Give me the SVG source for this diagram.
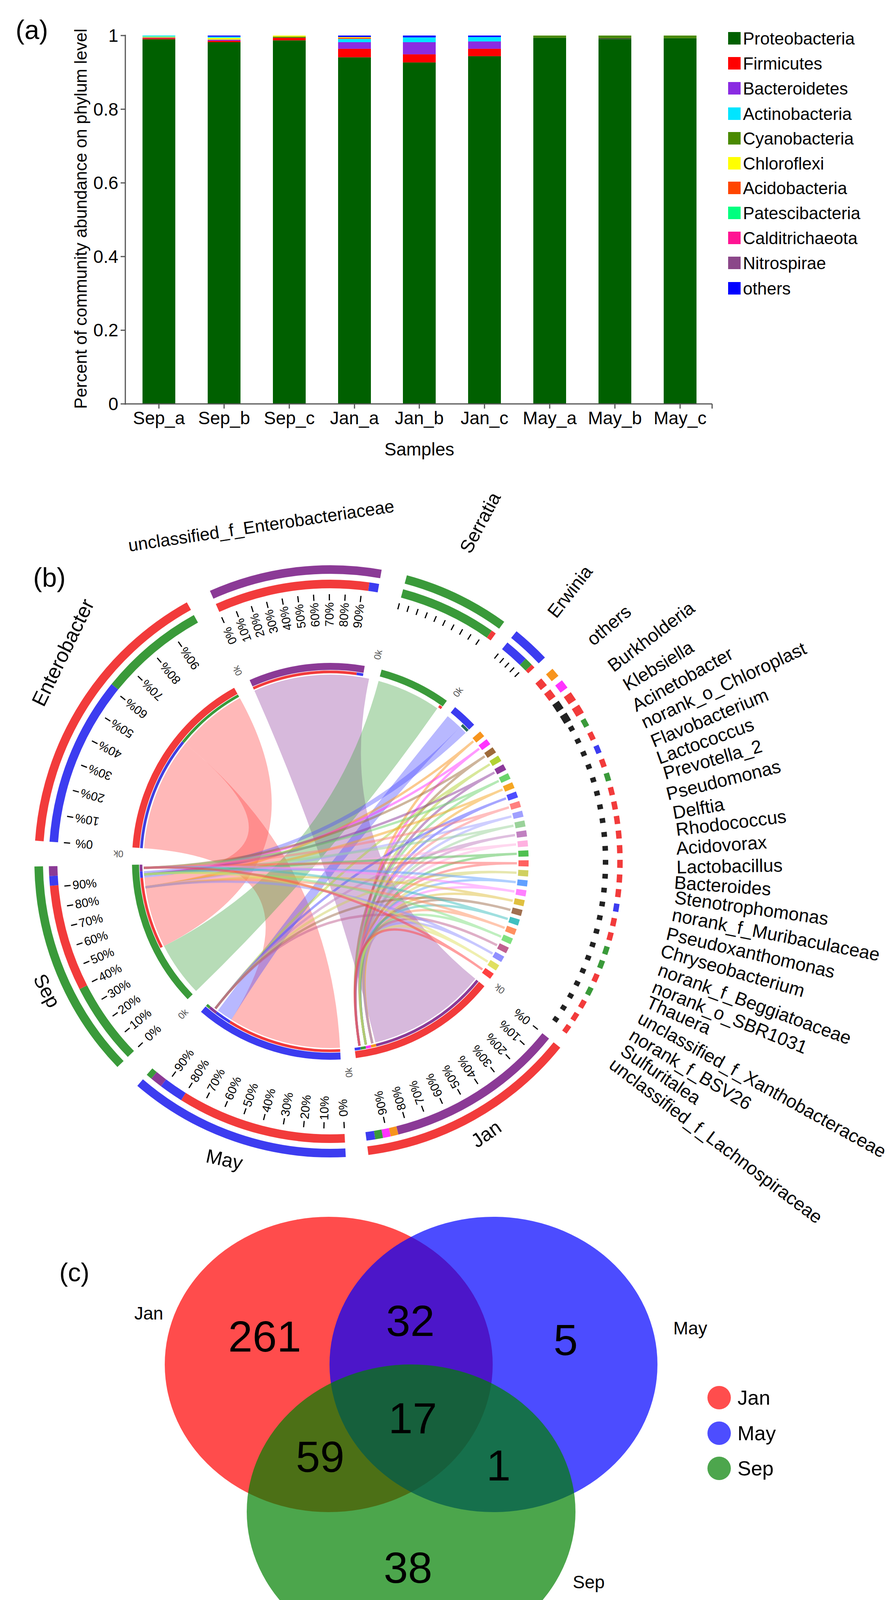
<svg xmlns="http://www.w3.org/2000/svg" width="2295" height="4282" viewBox="0 0 2295 4282">
<style>
text{font-family:"Liberation Sans",Arial,sans-serif;fill:#000}
.r{fill:none}
.tk line{stroke:#000;stroke-width:3}
.pc{font-size:31px;text-anchor:middle;dominant-baseline:central}
.ok{font-size:24px;fill:#555;text-anchor:middle;dominant-baseline:central}
.lb{font-size:47px}
.sr path{fill:none;stroke-width:6;stroke-opacity:.5}
.rb{opacity:.4}
.vn{font-size:112px;text-anchor:middle}
</style>
<rect width="2295" height="4282" fill="#fff"/>
<g id="panel-a">
<text x="40" y="100" font-size="68">(a)</text>
<g id="bars">
<rect x="365" y="100.4" width="84" height="933.6" fill="#006000"/><rect x="365" y="97.6" width="84" height="2.8" fill="#f00"/><rect x="365" y="95.7" width="84" height="1.9" fill="#8b4789"/><rect x="365" y="93.8" width="84" height="1.9" fill="#ff0"/><rect x="365" y="91" width="84" height="2.8" fill="#00e5ff"/>
<rect x="532" y="108" width="84" height="926" fill="#006000"/><rect x="532" y="104.2" width="84" height="3.8" fill="#f00"/><rect x="532" y="101.4" width="84" height="2.8" fill="#8a2be2"/><rect x="532" y="96.7" width="84" height="4.7" fill="#ff0"/><rect x="532" y="93.8" width="84" height="2.9" fill="#00e5ff"/><rect x="532" y="91" width="84" height="2.8" fill="#00f"/>
<rect x="699" y="103.3" width="84" height="930.7" fill="#006000"/><rect x="699" y="96.7" width="84" height="6.6" fill="#f00"/><rect x="699" y="93.8" width="84" height="2.9" fill="#4a8a00"/><rect x="699" y="91" width="84" height="2.8" fill="#ff0"/>
<rect x="866" y="146.6" width="84" height="887.4" fill="#006000"/><rect x="866" y="124.9" width="84" height="21.7" fill="#f00"/><rect x="866" y="108" width="84" height="16.9" fill="#8a2be2"/><rect x="866" y="99.5" width="84" height="8.5" fill="#00e5ff"/><rect x="866" y="96.7" width="84" height="2.8" fill="#ff4500"/><rect x="866" y="94.8" width="84" height="1.9" fill="#ff0"/><rect x="866" y="91" width="84" height="3.8" fill="#00f"/>
<rect x="1032" y="159.8" width="84" height="874.2" fill="#006000"/><rect x="1032" y="139.1" width="84" height="20.7" fill="#f00"/><rect x="1032" y="108" width="84" height="31.1" fill="#8a2be2"/><rect x="1032" y="95.7" width="84" height="12.3" fill="#00e5ff"/><rect x="1032" y="91" width="84" height="4.7" fill="#00f"/>
<rect x="1199" y="143.8" width="84" height="890.2" fill="#006000"/><rect x="1199" y="124.9" width="84" height="18.9" fill="#f00"/><rect x="1199" y="106.1" width="84" height="18.8" fill="#8a2be2"/><rect x="1199" y="94.8" width="84" height="11.3" fill="#00e5ff"/><rect x="1199" y="91" width="84" height="3.8" fill="#00f"/>
<rect x="1366" y="96.7" width="84" height="937.3" fill="#006000"/><rect x="1366" y="91" width="84" height="5.7" fill="#4a8a00"/>
<rect x="1533" y="100.4" width="84" height="933.6" fill="#006000"/><rect x="1533" y="97.6" width="84" height="2.8" fill="#2a4a20"/><rect x="1533" y="91" width="84" height="6.6" fill="#4a8a00"/>
<rect x="1700" y="97.6" width="84" height="936.4" fill="#006000"/><rect x="1700" y="91" width="84" height="6.6" fill="#4a8a00"/>
</g>
<g id="axes" stroke="#555" stroke-width="3">
<line x1="321" y1="89" x2="321" y2="1036"/>
<line x1="319" y1="1034" x2="1824" y2="1034"/>
<line x1="309" y1="91" x2="321" y2="91"/><line x1="309" y1="279.6" x2="321" y2="279.6"/><line x1="309" y1="468.2" x2="321" y2="468.2"/><line x1="309" y1="656.8" x2="321" y2="656.8"/><line x1="309" y1="845.4" x2="321" y2="845.4"/><line x1="309" y1="1034" x2="321" y2="1034"/>
<line x1="407" y1="1034" x2="407" y2="1046"/><line x1="574" y1="1034" x2="574" y2="1046"/><line x1="741" y1="1034" x2="741" y2="1046"/><line x1="908" y1="1034" x2="908" y2="1046"/><line x1="1074" y1="1034" x2="1074" y2="1046"/><line x1="1241" y1="1034" x2="1241" y2="1046"/><line x1="1408" y1="1034" x2="1408" y2="1046"/><line x1="1575" y1="1034" x2="1575" y2="1046"/><line x1="1742" y1="1034" x2="1742" y2="1046"/><line x1="1824" y1="1034" x2="1824" y2="1046"/>
</g>
<g font-size="46" text-anchor="end">
<text x="303" y="107">1</text><text x="303" y="296">0.8</text><text x="303" y="484">0.6</text><text x="303" y="673">0.4</text><text x="303" y="861">0.2</text><text x="303" y="1050">0</text>
</g>
<g font-size="46" text-anchor="middle">
<text x="407" y="1086">Sep_a</text><text x="574" y="1086">Sep_b</text><text x="741" y="1086">Sep_c</text><text x="908" y="1086">Jan_a</text><text x="1074" y="1086">Jan_b</text><text x="1241" y="1086">Jan_c</text><text x="1408" y="1086">May_a</text><text x="1575" y="1086">May_b</text><text x="1742" y="1086">May_c</text>
<text x="1074" y="1166">Samples</text>
<text x="0" y="0" transform="translate(222 560) rotate(-90)" font-size="44">Percent of community abundance on phylum level</text>
</g>
<g id="legend-a" font-size="44">
<rect x="1865" y="82" width="32" height="32" fill="#006000"/><text x="1903" y="114">Proteobacteria</text>
<rect x="1865" y="146" width="32" height="32" fill="#f00"/><text x="1903" y="178">Firmicutes</text>
<rect x="1865" y="210" width="32" height="32" fill="#8a2be2"/><text x="1903" y="242">Bacteroidetes</text>
<rect x="1865" y="275" width="32" height="32" fill="#00e5ff"/><text x="1903" y="307">Actinobacteria</text>
<rect x="1865" y="338" width="32" height="32" fill="#4a8a00"/><text x="1903" y="370">Cyanobacteria</text>
<rect x="1865" y="402" width="32" height="32" fill="#ff0"/><text x="1903" y="434">Chloroflexi</text>
<rect x="1865" y="465" width="32" height="32" fill="#ff4500"/><text x="1903" y="497">Acidobacteria</text>
<rect x="1865" y="529" width="32" height="32" fill="#00ff7f"/><text x="1903" y="561">Patescibacteria</text>
<rect x="1865" y="593" width="32" height="32" fill="#ff1493"/><text x="1903" y="625">Calditrichaeota</text>
<rect x="1865" y="657" width="32" height="32" fill="#8b4789"/><text x="1903" y="689">Nitrospirae</text>
<rect x="1865" y="722" width="32" height="32" fill="#00f"/><text x="1903" y="754">others</text>
</g>
</g>

<g id="panel-b">
<text x="85" y="1502" font-size="68">(b)</text>
<g id="connectors">
<path class="rb" fill="#ff4d4d" d="M369.1,2171.6 A478,478 0 0 1 474.5,1904.2 Q846,2205 871,2682.3 A478,478 0 0 1 592.7,2610.3 Q846,2205 369.1,2171.6Z"/>
<path class="rb" fill="#ff4d4d" d="M474.5,1904.2 A478,478 0 0 1 614.3,1786.9 Q846,2205 420.1,2422 A478,478 0 0 1 369.8,2246.7 Q846,2205 474.5,1904.2Z"/>
<path class="rb" fill="#9b4fa8" d="M651.6,1768.3 A478,478 0 0 1 945.4,1737.5 Q846,2205 1217.5,2505.8 A478,478 0 0 1 961.6,2668.8 Q846,2205 651.6,1768.3Z"/>
<path class="rb" fill="#4aa84a" d="M969.7,1743.3 A478,478 0 0 1 1120.2,1813.4 Q846,2205 502.2,2537.1 A478,478 0 0 1 420.1,2422 Q846,2205 969.7,1743.3Z"/>
<path class="rb" fill="#4d4dff" d="M1146.8,1833.5 A478,478 0 0 1 1178.1,1861.2 Q846,2205 592.7,2610.3 A478,478 0 0 1 558.3,2586.7 Q846,2205 1146.8,1833.5Z"/>
<path class="rb" fill="#4d4dff" d="M1178.1,1861.2 A478,478 0 0 1 1192.7,1875.9 Q846,2205 369.8,2246.7 A478,478 0 0 1 368.7,2230 Q846,2205 1178.1,1861.2Z"/>
<g class="sr">
<path stroke="#f7941d" d="M1212.2,1897.7 Q846,2205 953.6,2670.8 M1212.2,1897.7 Q846,2205 372.6,2271.5"/>
<path stroke="#ff33ff" d="M1227.3,1916.7 Q846,2205 937.2,2674.2 M1227.3,1916.7 Q846,2205 369.1,2238.4"/>
<path stroke="#9e6b3a" d="M1241.4,1936.3 Q846,2205 920.8,2677.1 M1241.4,1936.3 Q846,2205 368.3,2221.7"/>
<path stroke="#b2d235" d="M1254.5,1956.7 Q846,2205 953.6,2670.8 M1254.5,1956.7 Q846,2205 551.7,2581.7"/>
<path stroke="#8c3a9a" d="M1266.5,1977.7 Q846,2205 937.2,2674.2 M1266.5,1977.7 Q846,2205 369.1,2238.4"/>
<path stroke="#6bd36b" d="M1277.4,1999.2 Q846,2205 920.8,2677.1 M1277.4,1999.2 Q846,2205 368.3,2221.7"/>
<path stroke="#f5a623" d="M1287.3,2021.3 Q846,2205 953.6,2670.8 M1287.3,2021.3 Q846,2205 372.6,2271.5"/>
<path stroke="#4d4dff" d="M1296,2043.9 Q846,2205 937.2,2674.2 M1296,2043.9 Q846,2205 551.7,2581.7"/>
<path stroke="#ff8080" d="M1303.6,2066.9 Q846,2205 920.8,2677.1 M1303.6,2066.9 Q846,2205 368.3,2221.7"/>
<path stroke="#a0a0ff" d="M1310,2090.2 Q846,2205 953.6,2670.8 M1310,2090.2 Q846,2205 372.6,2271.5"/>
<path stroke="#9ad29a" d="M1315.2,2113.8 Q846,2205 937.2,2674.2 M1315.2,2113.8 Q846,2205 369.1,2238.4"/>
<path stroke="#c080c0" d="M1319.2,2137.7 Q846,2205 920.8,2677.1 M1319.2,2137.7 Q846,2205 551.7,2581.7"/>
<path stroke="#ffb0e0" d="M1322,2161.7 Q846,2205 953.6,2670.8 M1322,2161.7 Q846,2205 372.6,2271.5"/>
<path stroke="#50c050" d="M1323.6,2185.8 Q846,2205 937.2,2674.2 M1323.6,2185.8 Q846,2205 369.1,2238.4"/>
<path stroke="#ff6060" d="M1324,2210 Q846,2205 920.8,2677.1 M1324,2210 Q846,2205 368.3,2221.7"/>
<path stroke="#d0d060" d="M1323.1,2234.2 Q846,2205 953.6,2670.8 M1323.1,2234.2 Q846,2205 551.7,2581.7"/>
<path stroke="#60a0ff" d="M1321,2258.3 Q846,2205 937.2,2674.2 M1321,2258.3 Q846,2205 369.1,2238.4"/>
<path stroke="#ff80ff" d="M1317.7,2282.2 Q846,2205 920.8,2677.1 M1317.7,2282.2 Q846,2205 368.3,2221.7"/>
<path stroke="#e0c040" d="M1313.2,2306 Q846,2205 953.6,2670.8 M1313.2,2306 Q846,2205 372.6,2271.5"/>
<path stroke="#a07050" d="M1307.5,2329.5 Q846,2205 937.2,2674.2 M1307.5,2329.5 Q846,2205 551.7,2581.7"/>
<path stroke="#40c0c0" d="M1300.6,2352.7 Q846,2205 920.8,2677.1 M1300.6,2352.7 Q846,2205 368.3,2221.7"/>
<path stroke="#ff9060" d="M1292.5,2375.5 Q846,2205 953.6,2670.8 M1292.5,2375.5 Q846,2205 372.6,2271.5"/>
<path stroke="#80e080" d="M1283.4,2397.9 Q846,2205 937.2,2674.2 M1283.4,2397.9 Q846,2205 369.1,2238.4"/>
<path stroke="#c06090" d="M1273,2419.8 Q846,2205 920.8,2677.1 M1273,2419.8 Q846,2205 551.7,2581.7"/>
<path stroke="#9090ff" d="M1261.6,2441.1 Q846,2205 953.6,2670.8 M1261.6,2441.1 Q846,2205 372.6,2271.5"/>
<path stroke="#e0e060" d="M1249.1,2461.8 Q846,2205 937.2,2674.2 M1249.1,2461.8 Q846,2205 369.1,2238.4"/>
<path stroke="#ff4040" d="M1235.6,2481.9 Q846,2205 920.8,2677.1 M1235.6,2481.9 Q846,2205 368.3,2221.7"/>
</g>
</g>

<g id="seg-Enterobacter" transform="rotate(184 846 2205)">
<circle class="r" cx="846" cy="2205" r="499" pathLength="360" stroke="#f23b3b" stroke-width="18" stroke-dasharray="57 360"/>
<circle class="r" cx="846" cy="2205" r="485" pathLength="360" stroke="#4040e0" stroke-width="7" stroke-dasharray="35 360"/>
<circle class="r" cx="846" cy="2205" r="485" pathLength="360" stroke="#3a9a3a" stroke-width="7" stroke-dasharray="0 35 22 360"/>
<circle class="r" cx="846" cy="2205" r="710" pathLength="360" stroke="#3c3cf0" stroke-width="22" stroke-dasharray="35 360"/>
<circle class="r" cx="846" cy="2205" r="710" pathLength="360" stroke="#3a9a3a" stroke-width="22" stroke-dasharray="0 35 22 360"/>
<circle class="r" cx="846" cy="2205" r="747" pathLength="360" stroke="#f23b3b" stroke-width="22" stroke-dasharray="57 360"/>
</g>
<g id="seg-unclassified_f_Enterobacteriaceae" transform="rotate(246 846 2205)">
<circle class="r" cx="846" cy="2205" r="499" pathLength="360" stroke="#8b3a96" stroke-width="18" stroke-dasharray="34 360"/>
<circle class="r" cx="846" cy="2205" r="485" pathLength="360" stroke="#f23b3b" stroke-width="7" stroke-dasharray="32 360"/>
<circle class="r" cx="846" cy="2205" r="485" pathLength="360" stroke="#3c3cf0" stroke-width="7" stroke-dasharray="0 32 2 360"/>
<circle class="r" cx="846" cy="2205" r="710" pathLength="360" stroke="#f23b3b" stroke-width="22" stroke-dasharray="32 360"/>
<circle class="r" cx="846" cy="2205" r="710" pathLength="360" stroke="#3c3cf0" stroke-width="22" stroke-dasharray="0 32 2 360"/>
<circle class="r" cx="846" cy="2205" r="747" pathLength="360" stroke="#8b3a96" stroke-width="22" stroke-dasharray="34 360"/>
</g>
<g id="seg-Serratia" transform="rotate(-75 846 2205)">
<circle class="r" cx="846" cy="2205" r="499" pathLength="360" stroke="#3a9a3a" stroke-width="18" stroke-dasharray="21 360"/>
<circle class="r" cx="846" cy="2205" r="485" pathLength="360" stroke="#f23b3b" stroke-width="7" stroke-dasharray="0 20 1 360"/>
<circle class="r" cx="846" cy="2205" r="710" pathLength="360" stroke="#3a9a3a" stroke-width="22" stroke-dasharray="20 360"/>
<circle class="r" cx="846" cy="2205" r="710" pathLength="360" stroke="#f23b3b" stroke-width="22" stroke-dasharray="0 20 1 360"/>
<circle class="r" cx="846" cy="2205" r="747" pathLength="360" stroke="#3a9a3a" stroke-width="22" stroke-dasharray="21 360"/>
</g>
<g id="seg-Erwinia" transform="rotate(-51 846 2205)">
<circle class="r" cx="846" cy="2205" r="499" pathLength="360" stroke="#3c3cf0" stroke-width="18" stroke-dasharray="7.5 360"/>
<circle class="r" cx="846" cy="2205" r="485" pathLength="360" stroke="#2a6a5a" stroke-width="7" stroke-dasharray="0 5 2.5 360"/>
<circle class="r" cx="846" cy="2205" r="710" pathLength="360" stroke="#3c3cf0" stroke-width="22" stroke-dasharray="5 360"/>
<circle class="r" cx="846" cy="2205" r="710" pathLength="360" stroke="#3a9a3a" stroke-width="22" stroke-dasharray="0 5 1.7 360"/>
<circle class="r" cx="846" cy="2205" r="710" pathLength="360" stroke="#f23b3b" stroke-width="22" stroke-dasharray="0 6.7 0.8 360"/>
<circle class="r" cx="846" cy="2205" r="747" pathLength="360" stroke="#3c3cf0" stroke-width="22" stroke-dasharray="7.5 360"/>
</g>
<g id="seg-Jan" transform="rotate(39 846 2205)">
<circle class="r" cx="846" cy="2205" r="499" pathLength="360" stroke="#f23b3b" stroke-width="18" stroke-dasharray="43.6 360"/>
<circle class="r" cx="846" cy="2205" r="485" pathLength="360" stroke="#8b3a96" stroke-width="7" stroke-dasharray="37 360"/>
<circle class="r" cx="846" cy="2205" r="485" pathLength="360" stroke="#f7941d" stroke-width="7" stroke-dasharray="0 37 1.6 360"/>
<circle class="r" cx="846" cy="2205" r="485" pathLength="360" stroke="#ff33ff" stroke-width="7" stroke-dasharray="0 38.6 1.6 360"/>
<circle class="r" cx="846" cy="2205" r="485" pathLength="360" stroke="#3a9a3a" stroke-width="7" stroke-dasharray="0 40.2 1.6 360"/>
<circle class="r" cx="846" cy="2205" r="485" pathLength="360" stroke="#3c3cf0" stroke-width="7" stroke-dasharray="0 41.8 1.8 360"/>
<circle class="r" cx="846" cy="2205" r="710" pathLength="360" stroke="#8b3a96" stroke-width="22" stroke-dasharray="37 360"/>
<circle class="r" cx="846" cy="2205" r="710" pathLength="360" stroke="#f7941d" stroke-width="22" stroke-dasharray="0 37 1.6 360"/>
<circle class="r" cx="846" cy="2205" r="710" pathLength="360" stroke="#ff33ff" stroke-width="22" stroke-dasharray="0 38.6 1.6 360"/>
<circle class="r" cx="846" cy="2205" r="710" pathLength="360" stroke="#3a9a3a" stroke-width="22" stroke-dasharray="0 40.2 1.6 360"/>
<circle class="r" cx="846" cy="2205" r="710" pathLength="360" stroke="#3c3cf0" stroke-width="22" stroke-dasharray="0 41.8 1.8 360"/>
<circle class="r" cx="846" cy="2205" r="747" pathLength="360" stroke="#f23b3b" stroke-width="22" stroke-dasharray="43.6 360"/>
</g>
<g id="seg-May" transform="rotate(87 846 2205)">
<circle class="r" cx="846" cy="2205" r="499" pathLength="360" stroke="#3c3cf0" stroke-width="18" stroke-dasharray="43.7 360"/>
<circle class="r" cx="846" cy="2205" r="485" pathLength="360" stroke="#f23b3b" stroke-width="7" stroke-dasharray="35 360"/>
<circle class="r" cx="846" cy="2205" r="485" pathLength="360" stroke="#3c3cf0" stroke-width="7" stroke-dasharray="0 35 5 360"/>
<circle class="r" cx="846" cy="2205" r="485" pathLength="360" stroke="#8b3a96" stroke-width="7" stroke-dasharray="0 40 2.5 360"/>
<circle class="r" cx="846" cy="2205" r="485" pathLength="360" stroke="#3a9a3a" stroke-width="7" stroke-dasharray="0 42.5 1.2 360"/>
<circle class="r" cx="846" cy="2205" r="710" pathLength="360" stroke="#f23b3b" stroke-width="22" stroke-dasharray="35 360"/>
<circle class="r" cx="846" cy="2205" r="710" pathLength="360" stroke="#3c3cf0" stroke-width="22" stroke-dasharray="0 35 5 360"/>
<circle class="r" cx="846" cy="2205" r="710" pathLength="360" stroke="#8b3a96" stroke-width="22" stroke-dasharray="0 40 2.5 360"/>
<circle class="r" cx="846" cy="2205" r="710" pathLength="360" stroke="#3a9a3a" stroke-width="22" stroke-dasharray="0 42.5 1.2 360"/>
<circle class="r" cx="846" cy="2205" r="747" pathLength="360" stroke="#3c3cf0" stroke-width="22" stroke-dasharray="43.7 360"/>
</g>
<g id="seg-Sep" transform="rotate(136 846 2205)">
<circle class="r" cx="846" cy="2205" r="499" pathLength="360" stroke="#3a9a3a" stroke-width="18" stroke-dasharray="43 360"/>
<circle class="r" cx="846" cy="2205" r="485" pathLength="360" stroke="#f23b3b" stroke-width="7" stroke-dasharray="0 17 22 360"/>
<circle class="r" cx="846" cy="2205" r="485" pathLength="360" stroke="#3c3cf0" stroke-width="7" stroke-dasharray="0 39 2 360"/>
<circle class="r" cx="846" cy="2205" r="485" pathLength="360" stroke="#8b3a96" stroke-width="7" stroke-dasharray="0 41 2 360"/>
<circle class="r" cx="846" cy="2205" r="710" pathLength="360" stroke="#3a9a3a" stroke-width="22" stroke-dasharray="17 360"/>
<circle class="r" cx="846" cy="2205" r="710" pathLength="360" stroke="#f23b3b" stroke-width="22" stroke-dasharray="0 17 22 360"/>
<circle class="r" cx="846" cy="2205" r="710" pathLength="360" stroke="#3c3cf0" stroke-width="22" stroke-dasharray="0 39 2 360"/>
<circle class="r" cx="846" cy="2205" r="710" pathLength="360" stroke="#8b3a96" stroke-width="22" stroke-dasharray="0 41 2 360"/>
<circle class="r" cx="846" cy="2205" r="747" pathLength="360" stroke="#3a9a3a" stroke-width="22" stroke-dasharray="43 360"/>
</g>

<g id="small-segments">
<g transform="rotate(-40.9 846 2205)"><circle class="r" cx="846" cy="2205" r="495" pathLength="360" stroke="#f7941d" stroke-width="26" stroke-dasharray="1.8 360"/><circle class="r" cx="846" cy="2205" r="705" pathLength="360" stroke="#f23b3b" stroke-width="20" stroke-dasharray="1.8 360"/><circle class="r" cx="846" cy="2205" r="742" pathLength="360" stroke="#f7941d" stroke-width="22" stroke-dasharray="1.8 360"/></g>
<g transform="rotate(-38 846 2205)"><circle class="r" cx="846" cy="2205" r="495" pathLength="360" stroke="#ff33ff" stroke-width="26" stroke-dasharray="1.8 360"/><circle class="r" cx="846" cy="2205" r="705" pathLength="360" stroke="#f23b3b" stroke-width="20" stroke-dasharray="1.8 360"/><circle class="r" cx="846" cy="2205" r="742" pathLength="360" stroke="#ff33ff" stroke-width="22" stroke-dasharray="1.8 360"/></g>
<g transform="rotate(-35.1 846 2205)"><circle class="r" cx="846" cy="2205" r="495" pathLength="360" stroke="#9e6b3a" stroke-width="26" stroke-dasharray="1.8 360"/><circle class="r" cx="846" cy="2205" r="705" pathLength="360" stroke="#222" stroke-width="20" stroke-dasharray="1.8 360"/><circle class="r" cx="846" cy="2205" r="742" pathLength="360" stroke="#f23b3b" stroke-width="22" stroke-dasharray="1.8 360"/></g>
<g transform="rotate(-32.2 846 2205)"><circle class="r" cx="846" cy="2205" r="495" pathLength="360" stroke="#b2d235" stroke-width="26" stroke-dasharray="1.8 360"/><circle class="r" cx="846" cy="2205" r="705" pathLength="360" stroke="#222" stroke-width="20" stroke-dasharray="1.8 360"/><circle class="r" cx="846" cy="2205" r="742" pathLength="360" stroke="#f23b3b" stroke-width="22" stroke-dasharray="1.8 360"/></g>
<g transform="rotate(-29.3 846 2205)"><circle class="r" cx="846" cy="2205" r="495" pathLength="360" stroke="#8c3a9a" stroke-width="26" stroke-dasharray="1.8 360"/><circle class="r" cx="846" cy="2205" r="705" pathLength="360" stroke="#222" stroke-width="14" stroke-dasharray="1 360"/><circle class="r" cx="846" cy="2205" r="742" pathLength="360" stroke="#3a9a3a" stroke-width="14" stroke-dasharray="1.6 360"/></g>
<g transform="rotate(-26.4 846 2205)"><circle class="r" cx="846" cy="2205" r="495" pathLength="360" stroke="#6bd36b" stroke-width="26" stroke-dasharray="1.8 360"/><circle class="r" cx="846" cy="2205" r="705" pathLength="360" stroke="#222" stroke-width="14" stroke-dasharray="1 360"/><circle class="r" cx="846" cy="2205" r="742" pathLength="360" stroke="#f23b3b" stroke-width="14" stroke-dasharray="1.6 360"/></g>
<g transform="rotate(-23.5 846 2205)"><circle class="r" cx="846" cy="2205" r="495" pathLength="360" stroke="#f5a623" stroke-width="26" stroke-dasharray="1.8 360"/><circle class="r" cx="846" cy="2205" r="705" pathLength="360" stroke="#222" stroke-width="14" stroke-dasharray="1 360"/><circle class="r" cx="846" cy="2205" r="742" pathLength="360" stroke="#3c3cf0" stroke-width="14" stroke-dasharray="1.6 360"/></g>
<g transform="rotate(-20.6 846 2205)"><circle class="r" cx="846" cy="2205" r="495" pathLength="360" stroke="#4d4dff" stroke-width="26" stroke-dasharray="1.8 360"/><circle class="r" cx="846" cy="2205" r="705" pathLength="360" stroke="#222" stroke-width="14" stroke-dasharray="1 360"/><circle class="r" cx="846" cy="2205" r="742" pathLength="360" stroke="#f23b3b" stroke-width="14" stroke-dasharray="1.6 360"/></g>
<g transform="rotate(-17.7 846 2205)"><circle class="r" cx="846" cy="2205" r="495" pathLength="360" stroke="#ff8080" stroke-width="26" stroke-dasharray="1.8 360"/><circle class="r" cx="846" cy="2205" r="705" pathLength="360" stroke="#222" stroke-width="14" stroke-dasharray="1 360"/><circle class="r" cx="846" cy="2205" r="742" pathLength="360" stroke="#3a9a3a" stroke-width="14" stroke-dasharray="1.6 360"/></g>
<g transform="rotate(-14.8 846 2205)"><circle class="r" cx="846" cy="2205" r="495" pathLength="360" stroke="#a0a0ff" stroke-width="26" stroke-dasharray="1.8 360"/><circle class="r" cx="846" cy="2205" r="705" pathLength="360" stroke="#222" stroke-width="14" stroke-dasharray="1 360"/><circle class="r" cx="846" cy="2205" r="742" pathLength="360" stroke="#f23b3b" stroke-width="14" stroke-dasharray="1.6 360"/></g>
<g transform="rotate(-11.9 846 2205)"><circle class="r" cx="846" cy="2205" r="495" pathLength="360" stroke="#9ad29a" stroke-width="26" stroke-dasharray="1.8 360"/><circle class="r" cx="846" cy="2205" r="705" pathLength="360" stroke="#222" stroke-width="14" stroke-dasharray="1 360"/><circle class="r" cx="846" cy="2205" r="742" pathLength="360" stroke="#f23b3b" stroke-width="14" stroke-dasharray="1.6 360"/></g>
<g transform="rotate(-9 846 2205)"><circle class="r" cx="846" cy="2205" r="495" pathLength="360" stroke="#c080c0" stroke-width="26" stroke-dasharray="1.8 360"/><circle class="r" cx="846" cy="2205" r="705" pathLength="360" stroke="#222" stroke-width="14" stroke-dasharray="1 360"/><circle class="r" cx="846" cy="2205" r="742" pathLength="360" stroke="#f23b3b" stroke-width="14" stroke-dasharray="1.6 360"/></g>
<g transform="rotate(-6.1 846 2205)"><circle class="r" cx="846" cy="2205" r="495" pathLength="360" stroke="#ffb0e0" stroke-width="26" stroke-dasharray="1.8 360"/><circle class="r" cx="846" cy="2205" r="705" pathLength="360" stroke="#222" stroke-width="14" stroke-dasharray="1 360"/><circle class="r" cx="846" cy="2205" r="742" pathLength="360" stroke="#f23b3b" stroke-width="14" stroke-dasharray="1.6 360"/></g>
<g transform="rotate(-3.2 846 2205)"><circle class="r" cx="846" cy="2205" r="495" pathLength="360" stroke="#50c050" stroke-width="26" stroke-dasharray="1.8 360"/><circle class="r" cx="846" cy="2205" r="705" pathLength="360" stroke="#222" stroke-width="14" stroke-dasharray="1 360"/><circle class="r" cx="846" cy="2205" r="742" pathLength="360" stroke="#f23b3b" stroke-width="14" stroke-dasharray="1.6 360"/></g>
<g transform="rotate(-0.3 846 2205)"><circle class="r" cx="846" cy="2205" r="495" pathLength="360" stroke="#ff6060" stroke-width="26" stroke-dasharray="1.8 360"/><circle class="r" cx="846" cy="2205" r="705" pathLength="360" stroke="#222" stroke-width="14" stroke-dasharray="1 360"/><circle class="r" cx="846" cy="2205" r="742" pathLength="360" stroke="#f23b3b" stroke-width="14" stroke-dasharray="1.6 360"/></g>
<g transform="rotate(2.6 846 2205)"><circle class="r" cx="846" cy="2205" r="495" pathLength="360" stroke="#d0d060" stroke-width="26" stroke-dasharray="1.8 360"/><circle class="r" cx="846" cy="2205" r="705" pathLength="360" stroke="#222" stroke-width="14" stroke-dasharray="1 360"/><circle class="r" cx="846" cy="2205" r="742" pathLength="360" stroke="#f23b3b" stroke-width="14" stroke-dasharray="1.6 360"/></g>
<g transform="rotate(5.5 846 2205)"><circle class="r" cx="846" cy="2205" r="495" pathLength="360" stroke="#60a0ff" stroke-width="26" stroke-dasharray="1.8 360"/><circle class="r" cx="846" cy="2205" r="705" pathLength="360" stroke="#222" stroke-width="14" stroke-dasharray="1 360"/><circle class="r" cx="846" cy="2205" r="742" pathLength="360" stroke="#f23b3b" stroke-width="14" stroke-dasharray="1.6 360"/></g>
<g transform="rotate(8.4 846 2205)"><circle class="r" cx="846" cy="2205" r="495" pathLength="360" stroke="#ff80ff" stroke-width="26" stroke-dasharray="1.8 360"/><circle class="r" cx="846" cy="2205" r="705" pathLength="360" stroke="#222" stroke-width="14" stroke-dasharray="1 360"/><circle class="r" cx="846" cy="2205" r="742" pathLength="360" stroke="#3c3cf0" stroke-width="14" stroke-dasharray="1.6 360"/></g>
<g transform="rotate(11.3 846 2205)"><circle class="r" cx="846" cy="2205" r="495" pathLength="360" stroke="#e0c040" stroke-width="26" stroke-dasharray="1.8 360"/><circle class="r" cx="846" cy="2205" r="705" pathLength="360" stroke="#222" stroke-width="14" stroke-dasharray="1 360"/><circle class="r" cx="846" cy="2205" r="742" pathLength="360" stroke="#f23b3b" stroke-width="14" stroke-dasharray="1.6 360"/></g>
<g transform="rotate(14.2 846 2205)"><circle class="r" cx="846" cy="2205" r="495" pathLength="360" stroke="#a07050" stroke-width="26" stroke-dasharray="1.8 360"/><circle class="r" cx="846" cy="2205" r="705" pathLength="360" stroke="#222" stroke-width="14" stroke-dasharray="1 360"/><circle class="r" cx="846" cy="2205" r="742" pathLength="360" stroke="#f23b3b" stroke-width="14" stroke-dasharray="1.6 360"/></g>
<g transform="rotate(17.1 846 2205)"><circle class="r" cx="846" cy="2205" r="495" pathLength="360" stroke="#40c0c0" stroke-width="26" stroke-dasharray="1.8 360"/><circle class="r" cx="846" cy="2205" r="705" pathLength="360" stroke="#222" stroke-width="14" stroke-dasharray="1 360"/><circle class="r" cx="846" cy="2205" r="742" pathLength="360" stroke="#3a9a3a" stroke-width="14" stroke-dasharray="1.6 360"/></g>
<g transform="rotate(20 846 2205)"><circle class="r" cx="846" cy="2205" r="495" pathLength="360" stroke="#ff9060" stroke-width="26" stroke-dasharray="1.8 360"/><circle class="r" cx="846" cy="2205" r="705" pathLength="360" stroke="#222" stroke-width="14" stroke-dasharray="1 360"/><circle class="r" cx="846" cy="2205" r="742" pathLength="360" stroke="#3a9a3a" stroke-width="14" stroke-dasharray="1.6 360"/></g>
<g transform="rotate(22.9 846 2205)"><circle class="r" cx="846" cy="2205" r="495" pathLength="360" stroke="#80e080" stroke-width="26" stroke-dasharray="1.8 360"/><circle class="r" cx="846" cy="2205" r="705" pathLength="360" stroke="#222" stroke-width="14" stroke-dasharray="1 360"/><circle class="r" cx="846" cy="2205" r="742" pathLength="360" stroke="#f23b3b" stroke-width="14" stroke-dasharray="1.6 360"/></g>
<g transform="rotate(25.8 846 2205)"><circle class="r" cx="846" cy="2205" r="495" pathLength="360" stroke="#c06090" stroke-width="26" stroke-dasharray="1.8 360"/><circle class="r" cx="846" cy="2205" r="705" pathLength="360" stroke="#222" stroke-width="14" stroke-dasharray="1 360"/><circle class="r" cx="846" cy="2205" r="742" pathLength="360" stroke="#3a9a3a" stroke-width="14" stroke-dasharray="1.6 360"/></g>
<g transform="rotate(28.7 846 2205)"><circle class="r" cx="846" cy="2205" r="495" pathLength="360" stroke="#9090ff" stroke-width="26" stroke-dasharray="1.8 360"/><circle class="r" cx="846" cy="2205" r="705" pathLength="360" stroke="#222" stroke-width="14" stroke-dasharray="1 360"/><circle class="r" cx="846" cy="2205" r="742" pathLength="360" stroke="#f23b3b" stroke-width="14" stroke-dasharray="1.6 360"/></g>
<g transform="rotate(31.6 846 2205)"><circle class="r" cx="846" cy="2205" r="495" pathLength="360" stroke="#e0e060" stroke-width="26" stroke-dasharray="1.8 360"/><circle class="r" cx="846" cy="2205" r="705" pathLength="360" stroke="#222" stroke-width="14" stroke-dasharray="1 360"/><circle class="r" cx="846" cy="2205" r="742" pathLength="360" stroke="#f23b3b" stroke-width="14" stroke-dasharray="1.6 360"/></g>
<g transform="rotate(34.5 846 2205)"><circle class="r" cx="846" cy="2205" r="495" pathLength="360" stroke="#ff4040" stroke-width="26" stroke-dasharray="1.8 360"/><circle class="r" cx="846" cy="2205" r="705" pathLength="360" stroke="#222" stroke-width="14" stroke-dasharray="1 360"/><circle class="r" cx="846" cy="2205" r="742" pathLength="360" stroke="#f23b3b" stroke-width="14" stroke-dasharray="1.6 360"/></g>
</g>

<g id="scales" class="tk">
<g id="ticks">
<line x1="846" y1="1521" x2="846" y2="1537" transform="rotate(274 846 2205)"/><line x1="846" y1="1521" x2="846" y2="1537" transform="rotate(279.7 846 2205)"/><line x1="846" y1="1521" x2="846" y2="1537" transform="rotate(285.4 846 2205)"/><line x1="846" y1="1521" x2="846" y2="1537" transform="rotate(291.1 846 2205)"/><line x1="846" y1="1521" x2="846" y2="1537" transform="rotate(296.8 846 2205)"/><line x1="846" y1="1521" x2="846" y2="1537" transform="rotate(302.5 846 2205)"/><line x1="846" y1="1521" x2="846" y2="1537" transform="rotate(308.2 846 2205)"/><line x1="846" y1="1521" x2="846" y2="1537" transform="rotate(313.9 846 2205)"/><line x1="846" y1="1521" x2="846" y2="1537" transform="rotate(319.6 846 2205)"/><line x1="846" y1="1521" x2="846" y2="1537" transform="rotate(325.3 846 2205)"/>
<line x1="846" y1="1521" x2="846" y2="1537" transform="rotate(336 846 2205)"/><line x1="846" y1="1521" x2="846" y2="1537" transform="rotate(339.4 846 2205)"/><line x1="846" y1="1521" x2="846" y2="1537" transform="rotate(342.8 846 2205)"/><line x1="846" y1="1521" x2="846" y2="1537" transform="rotate(346.2 846 2205)"/><line x1="846" y1="1521" x2="846" y2="1537" transform="rotate(349.6 846 2205)"/><line x1="846" y1="1521" x2="846" y2="1537" transform="rotate(353 846 2205)"/><line x1="846" y1="1521" x2="846" y2="1537" transform="rotate(356.4 846 2205)"/><line x1="846" y1="1521" x2="846" y2="1537" transform="rotate(359.8 846 2205)"/><line x1="846" y1="1521" x2="846" y2="1537" transform="rotate(363.2 846 2205)"/><line x1="846" y1="1521" x2="846" y2="1537" transform="rotate(366.6 846 2205)"/>
<line x1="846" y1="1521" x2="846" y2="1537" transform="rotate(15 846 2205)"/><line x1="846" y1="1521" x2="846" y2="1537" transform="rotate(17.1 846 2205)"/><line x1="846" y1="1521" x2="846" y2="1537" transform="rotate(19.2 846 2205)"/><line x1="846" y1="1521" x2="846" y2="1537" transform="rotate(21.3 846 2205)"/><line x1="846" y1="1521" x2="846" y2="1537" transform="rotate(23.4 846 2205)"/><line x1="846" y1="1521" x2="846" y2="1537" transform="rotate(25.5 846 2205)"/><line x1="846" y1="1521" x2="846" y2="1537" transform="rotate(27.6 846 2205)"/><line x1="846" y1="1521" x2="846" y2="1537" transform="rotate(29.7 846 2205)"/><line x1="846" y1="1521" x2="846" y2="1537" transform="rotate(31.8 846 2205)"/><line x1="846" y1="1521" x2="846" y2="1537" transform="rotate(33.9 846 2205)"/>
<line x1="846" y1="1521" x2="846" y2="1537" transform="rotate(39 846 2205)"/><line x1="846" y1="1521" x2="846" y2="1537" transform="rotate(40.5 846 2205)"/><line x1="846" y1="1521" x2="846" y2="1537" transform="rotate(42 846 2205)"/><line x1="846" y1="1521" x2="846" y2="1537" transform="rotate(43.5 846 2205)"/><line x1="846" y1="1521" x2="846" y2="1537" transform="rotate(45 846 2205)"/>
<line x1="846" y1="1521" x2="846" y2="1537" transform="rotate(129 846 2205)"/><line x1="846" y1="1521" x2="846" y2="1537" transform="rotate(133.36 846 2205)"/><line x1="846" y1="1521" x2="846" y2="1537" transform="rotate(137.72 846 2205)"/><line x1="846" y1="1521" x2="846" y2="1537" transform="rotate(142.08 846 2205)"/><line x1="846" y1="1521" x2="846" y2="1537" transform="rotate(146.44 846 2205)"/><line x1="846" y1="1521" x2="846" y2="1537" transform="rotate(150.8 846 2205)"/><line x1="846" y1="1521" x2="846" y2="1537" transform="rotate(155.16 846 2205)"/><line x1="846" y1="1521" x2="846" y2="1537" transform="rotate(159.52 846 2205)"/><line x1="846" y1="1521" x2="846" y2="1537" transform="rotate(163.88 846 2205)"/><line x1="846" y1="1521" x2="846" y2="1537" transform="rotate(168.24 846 2205)"/>
<line x1="846" y1="1521" x2="846" y2="1537" transform="rotate(177 846 2205)"/><line x1="846" y1="1521" x2="846" y2="1537" transform="rotate(181.37 846 2205)"/><line x1="846" y1="1521" x2="846" y2="1537" transform="rotate(185.74 846 2205)"/><line x1="846" y1="1521" x2="846" y2="1537" transform="rotate(190.11 846 2205)"/><line x1="846" y1="1521" x2="846" y2="1537" transform="rotate(194.48 846 2205)"/><line x1="846" y1="1521" x2="846" y2="1537" transform="rotate(198.85 846 2205)"/><line x1="846" y1="1521" x2="846" y2="1537" transform="rotate(203.22 846 2205)"/><line x1="846" y1="1521" x2="846" y2="1537" transform="rotate(207.59 846 2205)"/><line x1="846" y1="1521" x2="846" y2="1537" transform="rotate(211.96 846 2205)"/><line x1="846" y1="1521" x2="846" y2="1537" transform="rotate(216.33 846 2205)"/>
<line x1="846" y1="1521" x2="846" y2="1537" transform="rotate(226 846 2205)"/><line x1="846" y1="1521" x2="846" y2="1537" transform="rotate(230.3 846 2205)"/><line x1="846" y1="1521" x2="846" y2="1537" transform="rotate(234.6 846 2205)"/><line x1="846" y1="1521" x2="846" y2="1537" transform="rotate(238.9 846 2205)"/><line x1="846" y1="1521" x2="846" y2="1537" transform="rotate(243.2 846 2205)"/><line x1="846" y1="1521" x2="846" y2="1537" transform="rotate(247.5 846 2205)"/><line x1="846" y1="1521" x2="846" y2="1537" transform="rotate(251.8 846 2205)"/><line x1="846" y1="1521" x2="846" y2="1537" transform="rotate(256.1 846 2205)"/><line x1="846" y1="1521" x2="846" y2="1537" transform="rotate(260.4 846 2205)"/><line x1="846" y1="1521" x2="846" y2="1537" transform="rotate(264.7 846 2205)"/>
</g>
<g id="pct-labels" class="pc">
<text class="pc" x="846" y="1573" transform="rotate(274 846 2205) rotate(-90 846 1573)">0%</text><text class="pc" x="846" y="1573" transform="rotate(279.7 846 2205) rotate(-90 846 1573)">10%</text><text class="pc" x="846" y="1573" transform="rotate(285.4 846 2205) rotate(-90 846 1573)">20%</text><text class="pc" x="846" y="1573" transform="rotate(291.1 846 2205) rotate(-90 846 1573)">30%</text><text class="pc" x="846" y="1573" transform="rotate(296.8 846 2205) rotate(-90 846 1573)">40%</text><text class="pc" x="846" y="1573" transform="rotate(302.5 846 2205) rotate(-90 846 1573)">50%</text><text class="pc" x="846" y="1573" transform="rotate(308.2 846 2205) rotate(-90 846 1573)">60%</text><text class="pc" x="846" y="1573" transform="rotate(313.9 846 2205) rotate(-90 846 1573)">70%</text><text class="pc" x="846" y="1573" transform="rotate(319.6 846 2205) rotate(-90 846 1573)">80%</text><text class="pc" x="846" y="1573" transform="rotate(325.3 846 2205) rotate(-90 846 1573)">90%</text>
<text class="pc" x="846" y="1573" transform="rotate(336 846 2205) rotate(-90 846 1573)">0%</text><text class="pc" x="846" y="1573" transform="rotate(339.4 846 2205) rotate(-90 846 1573)">10%</text><text class="pc" x="846" y="1573" transform="rotate(342.8 846 2205) rotate(-90 846 1573)">20%</text><text class="pc" x="846" y="1573" transform="rotate(346.2 846 2205) rotate(-90 846 1573)">30%</text><text class="pc" x="846" y="1573" transform="rotate(349.6 846 2205) rotate(-90 846 1573)">40%</text><text class="pc" x="846" y="1573" transform="rotate(353 846 2205) rotate(-90 846 1573)">50%</text><text class="pc" x="846" y="1573" transform="rotate(356.4 846 2205) rotate(-90 846 1573)">60%</text><text class="pc" x="846" y="1573" transform="rotate(359.8 846 2205) rotate(-90 846 1573)">70%</text><text class="pc" x="846" y="1573" transform="rotate(363.2 846 2205) rotate(-90 846 1573)">80%</text><text class="pc" x="846" y="1573" transform="rotate(366.6 846 2205) rotate(-90 846 1573)">90%</text>
<text class="pc" x="846" y="1573" transform="rotate(129 846 2205) rotate(90 846 1573)">0%</text><text class="pc" x="846" y="1573" transform="rotate(133.36 846 2205) rotate(90 846 1573)">10%</text><text class="pc" x="846" y="1573" transform="rotate(137.72 846 2205) rotate(90 846 1573)">20%</text><text class="pc" x="846" y="1573" transform="rotate(142.08 846 2205) rotate(90 846 1573)">30%</text><text class="pc" x="846" y="1573" transform="rotate(146.44 846 2205) rotate(90 846 1573)">40%</text><text class="pc" x="846" y="1573" transform="rotate(150.8 846 2205) rotate(90 846 1573)">50%</text><text class="pc" x="846" y="1573" transform="rotate(155.16 846 2205) rotate(90 846 1573)">60%</text><text class="pc" x="846" y="1573" transform="rotate(159.52 846 2205) rotate(90 846 1573)">70%</text><text class="pc" x="846" y="1573" transform="rotate(163.88 846 2205) rotate(90 846 1573)">80%</text><text class="pc" x="846" y="1573" transform="rotate(168.24 846 2205) rotate(90 846 1573)">90%</text>
<text class="pc" x="846" y="1573" transform="rotate(177 846 2205) rotate(90 846 1573)">0%</text><text class="pc" x="846" y="1573" transform="rotate(181.37 846 2205) rotate(90 846 1573)">10%</text><text class="pc" x="846" y="1573" transform="rotate(185.74 846 2205) rotate(90 846 1573)">20%</text><text class="pc" x="846" y="1573" transform="rotate(190.11 846 2205) rotate(90 846 1573)">30%</text><text class="pc" x="846" y="1573" transform="rotate(194.48 846 2205) rotate(90 846 1573)">40%</text><text class="pc" x="846" y="1573" transform="rotate(198.85 846 2205) rotate(90 846 1573)">50%</text><text class="pc" x="846" y="1573" transform="rotate(203.22 846 2205) rotate(90 846 1573)">60%</text><text class="pc" x="846" y="1573" transform="rotate(207.59 846 2205) rotate(90 846 1573)">70%</text><text class="pc" x="846" y="1573" transform="rotate(211.96 846 2205) rotate(90 846 1573)">80%</text><text class="pc" x="846" y="1573" transform="rotate(216.33 846 2205) rotate(90 846 1573)">90%</text>
<text class="pc" x="846" y="1573" transform="rotate(226 846 2205) rotate(90 846 1573)">0%</text><text class="pc" x="846" y="1573" transform="rotate(230.3 846 2205) rotate(90 846 1573)">10%</text><text class="pc" x="846" y="1573" transform="rotate(234.6 846 2205) rotate(90 846 1573)">20%</text><text class="pc" x="846" y="1573" transform="rotate(238.9 846 2205) rotate(90 846 1573)">30%</text><text class="pc" x="846" y="1573" transform="rotate(243.2 846 2205) rotate(90 846 1573)">40%</text><text class="pc" x="846" y="1573" transform="rotate(247.5 846 2205) rotate(90 846 1573)">50%</text><text class="pc" x="846" y="1573" transform="rotate(251.8 846 2205) rotate(90 846 1573)">60%</text><text class="pc" x="846" y="1573" transform="rotate(256.1 846 2205) rotate(90 846 1573)">70%</text><text class="pc" x="846" y="1573" transform="rotate(260.4 846 2205) rotate(90 846 1573)">80%</text><text class="pc" x="846" y="1573" transform="rotate(264.7 846 2205) rotate(90 846 1573)">90%</text>
</g>
<g id="zero-k">
<text class="ok" x="846" y="1662" transform="rotate(272 846 2205) rotate(-90 846 1662)">0k</text>
<text class="ok" x="846" y="1662" transform="rotate(334 846 2205) rotate(-90 846 1662)">0k</text>
<text class="ok" x="846" y="1662" transform="rotate(13 846 2205) rotate(-90 846 1662)">0k</text>
<text class="ok" x="846" y="1662" transform="rotate(37 846 2205) rotate(-90 846 1662)">0k</text>
<text class="ok" x="846" y="1662" transform="rotate(127 846 2205) rotate(90 846 1662)">0k</text>
<text class="ok" x="846" y="1662" transform="rotate(175 846 2205) rotate(90 846 1662)">0k</text>
<text class="ok" x="846" y="1662" transform="rotate(224 846 2205) rotate(90 846 1662)">0k</text>
</g>
</g>

<g id="labels-b" class="lb">
<text x="331" y="1412" font-size="45" transform="rotate(-8.5 331 1412)">unclassified_f_Enterobacteriaceae</text>
<text x="1205" y="1420" font-size="48" transform="rotate(-62 1205 1420)">Serratia</text>
<text x="1425" y="1585" transform="rotate(-52 1425 1585)">Erwinia</text>
<text x="1520" y="1655" transform="rotate(-40 1520 1655)">others</text>
<text x="1572" y="1722" transform="rotate(-37 1572 1722)">Burkholderia</text>
<text x="1608" y="1770" transform="rotate(-31 1608 1770)">Klebsiella</text>
<text x="1630" y="1823" transform="rotate(-29 1630 1823)">Acinetobacter</text>
<text x="1652" y="1866" transform="rotate(-25 1652 1866)">norank_o_Chloroplast</text>
<text x="1675" y="1914" transform="rotate(-22.5 1675 1914)">Flavobacterium</text>
<text x="1689" y="1957" transform="rotate(-20 1689 1957)">Lactococcus</text>
<text x="1704" y="1996" transform="rotate(-16 1704 1996)">Prevotella_2</text>
<text x="1711" y="2049" transform="rotate(-14 1711 2049)">Pseudomonas</text>
<text x="1726" y="2097" transform="rotate(-10 1726 2097)">Delftia</text>
<text x="1733" y="2140" transform="rotate(-7 1733 2140)">Rhodococcus</text>
<text x="1733" y="2188" transform="rotate(-4 1733 2188)">Acidovorax</text>
<text x="1733" y="2236" transform="rotate(-1 1733 2236)">Lactobacillus</text>
<text x="1726" y="2275" transform="rotate(4 1726 2275)">Bacteroides</text>
<text x="1726" y="2313" transform="rotate(8 1726 2313)">Stenotrophomonas</text>
<text x="1719" y="2357" transform="rotate(11 1719 2357)">norank_f_Muribaculaceae</text>
<text x="1704" y="2405" transform="rotate(13 1704 2405)">Pseudoxanthomonas</text>
<text x="1689" y="2448" transform="rotate(16 1689 2448)">Chryseobacterium</text>
<text x="1682" y="2496" transform="rotate(20 1682 2496)">norank_f_Beggiatoaceae</text>
<text x="1667" y="2540" transform="rotate(22 1667 2540)">norank_o_SBR1031</text>
<text x="1652" y="2578" transform="rotate(24 1652 2578)">Thauera</text>
<text x="1630" y="2617" transform="rotate(29 1630 2617)">unclassified_f_Xanthobacteraceae</text>
<text x="1608" y="2660" transform="rotate(31 1608 2660)">norank_f_BSV26</text>
<text x="1586" y="2698" transform="rotate(34 1586 2698)">Sulfuritalea</text>
<text x="1557" y="2732" transform="rotate(37 1557 2732)">unclassified_f_Lachnospiraceae</text>
<text x="112" y="1812" font-size="52" transform="rotate(-64 112 1812)">Enterobacter</text>
<text x="84" y="2505" font-size="50" transform="rotate(62 84 2505)">Sep</text>
<text x="525" y="2975" font-size="50" transform="rotate(12 525 2975)">May</text>
<text x="1222" y="2940" font-size="50" transform="rotate(-35 1222 2940)">Jan</text>
</g>
</g>

<g id="panel-c">
<text x="152" y="3280" font-size="66">(c)</text>
<ellipse id="venn-Jan" cx="842" cy="3493" rx="420" ry="378" fill="#f00" fill-opacity="0.7"/>
<ellipse id="venn-May" cx="1264" cy="3493" rx="420" ry="378" fill="#00f" fill-opacity="0.7"/>
<ellipse id="venn-Sep" cx="1053" cy="3870" rx="421" ry="377" fill="#008000" fill-opacity="0.7"/>
<text x="381" y="3378" font-size="46" text-anchor="middle">Jan</text>
<text x="1768" y="3416" font-size="46" text-anchor="middle">May</text>
<text x="1508" y="4066" font-size="46" text-anchor="middle">Sep</text>
<text class="vn" x="678" y="3460">261</text>
<text class="vn" x="1051" y="3420">32</text>
<text class="vn" x="1449" y="3469">5</text>
<text class="vn" x="1057" y="3669">17</text>
<text class="vn" x="820" y="3768">59</text>
<text class="vn" x="1277" y="3790">1</text>
<text class="vn" x="1045" y="4052">38</text>
<g id="legend-c" font-size="52">
<circle cx="1842" cy="3578" r="30" fill="#ff4d4d"/><text x="1889" y="3596">Jan</text>
<circle cx="1842" cy="3669" r="30" fill="#4d4dff"/><text x="1889" y="3687">May</text>
<circle cx="1842" cy="3759" r="30" fill="#4da64d"/><text x="1889" y="3777">Sep</text>
</g>
</g>
</svg>
